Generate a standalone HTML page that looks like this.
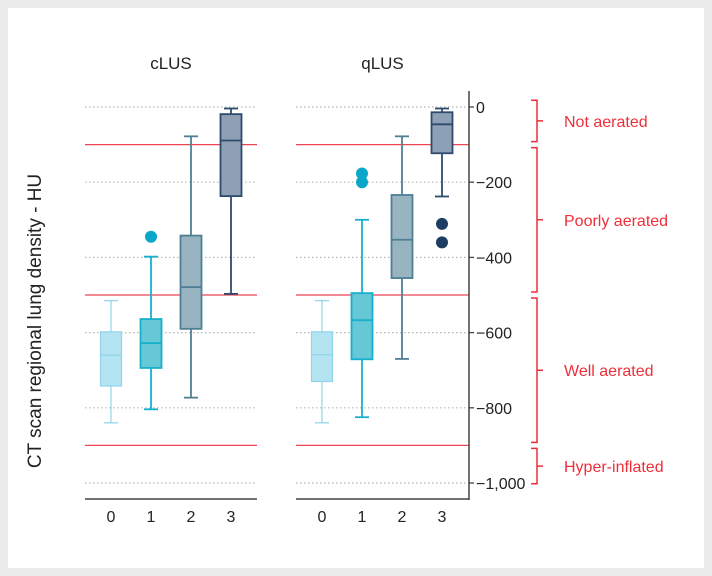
<!DOCTYPE html>
<html><head><meta charset="utf-8"><style>
html,body{margin:0;padding:0;background:#ececec;}
svg{display:block;font-family:"Liberation Sans",sans-serif;}
</style></head><body>
<svg id="chart" width="712" height="576" xmlns="http://www.w3.org/2000/svg">
<rect x="8" y="8" width="696" height="560" fill="#fff"/>
<g id="g"></g>
</svg>
<script>
const categories = ["0","1","2","3"];
const panels = ["cLUS","qLUS"];
// [low, q1, median, q3, high]
const clusStats = [[-840,-742,-660,-598,-515],[-804,-694,-628,-564,-398],[-773,-590,-479,-342,-78],[-497,-237,-89,-19,-4]];
const qlusStats = [[-840,-730,-659,-598,-515],[-825,-671,-567,-495,-300],[-670,-455,-353,-234,-78],[-238,-123,-46,-14,-4]];
const clusOutliers = [[],[-345],[],[]];
const qlusOutliers = [[],[-177,-200],[],[-311,-360]];
const yTicks = [0,-200,-400,-600,-800,-1000];
const yTickLabels = ["0","\u2212200","\u2212400","\u2212600","\u2212800","\u22121,000"];
const gridVals = [0,-200,-400,-600,-800,-1000];
const thresholds = [-100,-500,-900];
const zones = [{name:"Not aerated",from:26,to:-100},{name:"Poorly aerated",from:-100,to:-500},{name:"Well aerated",from:-500,to:-900},{name:"Hyper-inflated",from:-900,to:-1010}];

const NS="http://www.w3.org/2000/svg";
const g=document.getElementById('g');
function y(v){return 107-v*0.376;}
const panelX=[[85,257],[296,469]];
function xc(p,i){return panelX[p][0]+26+i*40;}
const fills=["#b4e3f2","#66c7d7","#98b4c1","#8ea0b5"];
const strokes=["#8fd4ea","#17b0cc","#4e7f95","#2e4b6d"];
const outC=["#8fd4ea","#0aa7c9","#4e7f95","#1d3d62"];
function el(tag,attrs,name,inter){const e=document.createElementNS(NS,tag);for(const k in attrs)e.setAttribute(k,attrs[k]);


g.appendChild(e);return e;}

panels.forEach((pn,p)=>{
  const [x0,x1]=panelX[p];
  gridVals.forEach(v=>{
    el('line',{x1:x0,x2:x1,y1:y(v),y2:y(v),stroke:"#b8b8b8","stroke-width":1.2,"stroke-dasharray":"1.5 2.5"},'grid-line',false);
  });
  thresholds.forEach(v=>{
    el('line',{x1:x0,x2:x1,y1:y(v),y2:y(v),stroke:"#ef4453","stroke-width":1.3},'threshold-line',false);
  });
  el('line',{x1:x0,x2:x1,y1:499,y2:499,stroke:"#444","stroke-width":1.5},'x-axis-'+pn,false);
  const t=el('text',{x:(x0+x1)/2,y:69,"text-anchor":"middle","font-size":17,fill:"#222"},'panel-title-'+pn,false);t.textContent=pn;
  const stats=p?qlusStats:clusStats, outs=p?qlusOutliers:clusOutliers;
  categories.forEach((c,i)=>{
    const cx=xc(p,i), s=stats[i], w=21, sw=i==0?1.2:1.8;
    el('line',{x1:cx,x2:cx,y1:y(s[0]),y2:y(s[4]),stroke:strokes[i],"stroke-width":sw},'whisker',false);
    el('line',{x1:cx-7,x2:cx+7,y1:y(s[0]),y2:y(s[0]),stroke:strokes[i],"stroke-width":sw},'whisker-cap-low',false);
    el('line',{x1:cx-7,x2:cx+7,y1:y(s[4]),y2:y(s[4]),stroke:strokes[i],"stroke-width":sw},'whisker-cap-high',false);
    el('rect',{x:cx-w/2,y:y(s[3]),width:w,height:y(s[1])-y(s[3]),fill:fills[i],stroke:strokes[i],"stroke-width":sw},'box-'+pn+'-'+c,true);
    el('line',{x1:cx-w/2,x2:cx+w/2,y1:y(s[2]),y2:y(s[2]),stroke:strokes[i],"stroke-width":sw},'median-line',false);
    outs[i].forEach(v=>{el('circle',{cx:cx,cy:y(v),r:6,fill:outC[i]},'outlier-point',true);});
    const tl=el('text',{x:cx,y:522,"text-anchor":"middle","font-size":16,fill:"#222"},'x-tick-label',false);tl.textContent=c;
  });
});
el('line',{x1:469,x2:469,y1:91,y2:500,stroke:"#444","stroke-width":1.5},'y-axis',false);
yTicks.forEach((v,i)=>{
  el('line',{x1:469,x2:474,y1:y(v),y2:y(v),stroke:"#444","stroke-width":1.3},'y-tick',false);
  const t=el('text',{x:476,y:y(v)+6,"font-size":16,fill:"#222"},'y-tick-label',false);t.textContent=yTickLabels[i];
});
const yl=el('text',{x:0,y:0,transform:"translate(41,321) rotate(-90)","text-anchor":"middle","font-size":19,fill:"#222"},'y-axis-title',false);
yl.textContent="CT scan regional lung density - HU";
zones.forEach(z=>{
  const a=y(z.from)+3,b=y(z.to)-3,m=(a+b)/2;
  el('path',{d:`M531 ${a}H537V${b}H531M537 ${m}H543`,fill:"none",stroke:"#ee2f3a","stroke-width":1.5},'bracket-'+z.name.toLowerCase().replace(/ /g,'-'),false);
  const t=el('text',{x:564,y:m+6,"font-size":16,fill:"#ee2f3a"},'zone-label',false);t.textContent=z.name;
});
</script>
</body></html>
